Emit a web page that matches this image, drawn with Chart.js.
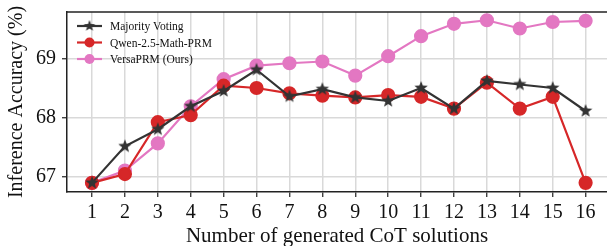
<!DOCTYPE html>
<html>
<head>
<meta charset="utf-8">
<script src="https://cdn.jsdelivr.net/npm/chart.js@4"></script>
<style>
  html, body { margin: 0; padding: 0; background: #fff; }
  #wrap { width: 607px; height: 246px; }
</style>
</head>
<body>
<div id="wrap"><canvas id="acc" width="607" height="246"></canvas></div>
<script>
// data
var nSolutions = [1, 2, 3, 4, 5, 6, 7, 8, 9, 10, 11, 12, 13, 14, 15, 16]
var majorityVoting = [66.90, 67.52, 67.81, 68.20, 68.46, 68.82, 68.37, 68.49, 68.35, 68.29, 68.51, 68.16, 68.63, 68.57, 68.51, 68.12]
var qwenPrm = [66.90, 67.05, 67.93, 68.05, 68.55, 68.51, 68.42, 68.38, 68.35, 68.39, 68.36, 68.16, 68.60, 68.16, 68.36, 66.90]
var versaPrm = [66.90, 67.11, 67.57, 68.20, 68.66, 68.89, 68.93, 68.96, 68.72, 69.05, 69.39, 69.60, 69.66, 69.52, 69.63, 69.65]
var yTicks = [67, 68, 69]

var serif = '"Liberation Serif", "DejaVu Serif", serif'

// filled star like matplotlib '*'
function makeStar(r, color) {
  var c = document.createElement('canvas')
  c.width = c.height = r * 2 + 2
  var g = c.getContext('2d')
  g.beginPath()
  for (var i = 0; i < 10; i++) {
    var rad = i % 2 === 0 ? r : r * 0.42
    var a = -Math.PI / 2 + i * Math.PI / 5
    var px = r + 1 + rad * Math.cos(a), py = r + 1 + rad * Math.sin(a)
    if (i === 0) g.moveTo(px, py); else g.lineTo(px, py)
  }
  g.closePath()
  g.fillStyle = color
  g.fill()
  return c
}
var star = makeStar(7, '#333333')
var legendStar = makeStar(6, '#333333')

function pts(ys) {
  return nSolutions.map(function (x, i) { return {x: x, y: ys[i]} })
}

var series = [
  {label: 'Majority Voting', data: pts(majorityVoting), color: '#333333', style: star},
  {label: 'Qwen-2.5-Math-PRM', data: pts(qwenPrm), color: '#d62728', style: 'circle'},
  {label: 'VersaPRM (Ours)', data: pts(versaPrm), color: '#e377c2', style: 'circle'}
]

var frameAndLegend = {
  id: 'frameAndLegend',
  afterDatasetsDraw: function (chart) {
    var ctx = chart.ctx, a = chart.chartArea
    ctx.save()
    ctx.strokeStyle = '#222'
    ctx.lineWidth = 1.5
    ctx.beginPath()
    ctx.moveTo(a.left, a.top); ctx.lineTo(a.right, a.top)
    ctx.stroke()

    ctx.font = '11.5px ' + serif
    ctx.textBaseline = 'middle'
    series.forEach(function (s, i) {
      var y = 26 + i * 16.5
      ctx.strokeStyle = s.color
      ctx.lineWidth = 2.2
      ctx.beginPath(); ctx.moveTo(77, y); ctx.lineTo(102, y); ctx.stroke()
      if (s.style === 'circle') {
        ctx.fillStyle = s.color
        ctx.beginPath(); ctx.arc(89.5, y, 5, 0, Math.PI * 2); ctx.fill()
      } else {
        ctx.drawImage(legendStar, 89.5 - legendStar.width / 2, y - legendStar.height / 2)
      }
      ctx.fillStyle = '#111'
      ctx.fillText(s.label, 110, y + 1)
    })
    ctx.restore()
  }
}

new Chart(document.getElementById('acc').getContext('2d'), {
  type: 'line',
  data: {
    datasets: series.map(function (s) {
      return {
        label: s.label,
        data: s.data,
        borderColor: s.color,
        backgroundColor: s.color,
        borderWidth: 2.2,
        pointStyle: s.style,
        pointRadius: 6,
        pointHoverRadius: 6,
        tension: 0,
        clip: false
      }
    })
  },
  options: {
    responsive: false,
    animation: false,
    events: [],
    layout: {autoPadding: false, padding: {top: 12, right: 0, left: 0, bottom: 0}},
    plugins: {legend: {display: false}, tooltip: {enabled: false}},
    scales: {
      x: {
        type: 'linear',
        min: 0.24,
        max: 16.65,
        afterBuildTicks: function (axis) {
          axis.ticks = nSolutions.map(function (v) { return {value: v} })
        },
        afterFit: function (axis) {
          axis.height = 54
          axis.paddingLeft = 0
          axis.paddingRight = 0
        },
        grid: {color: '#d9d9d9', lineWidth: 1.5, tickColor: '#222', tickLength: 5, tickWidth: 1.2},
        border: {display: true, color: '#222', width: 1.5},
        ticks: {color: '#111', font: {family: serif, size: 20}, padding: 4, maxRotation: 0, autoSkip: false},
        title: {display: true, text: 'Number of generated CoT solutions', color: '#111', font: {family: serif, size: 21}, padding: {top: 0, bottom: -3}}
      },
      y: {
        min: 66.745,
        max: 69.8,
        afterBuildTicks: function (axis) {
          axis.ticks = yTicks.map(function (v) { return {value: v} })
        },
        afterFit: function (axis) {
          axis.width = 67
          axis.paddingTop = 0
          axis.paddingBottom = 0
        },
        grid: {color: '#d9d9d9', lineWidth: 1.5, tickColor: '#222', tickLength: 5, tickWidth: 1.2},
        border: {display: true, color: '#222', width: 1.5},
        ticks: {color: '#111', font: {family: serif, size: 20}, padding: 6},
        title: {display: true, text: 'Inference Accuracy (%)', color: '#111', font: {family: serif, size: 20}, padding: {top: 5, bottom: 0}}
      }
    }
  },
  plugins: [frameAndLegend]
})
</script>
</body>
</html>
